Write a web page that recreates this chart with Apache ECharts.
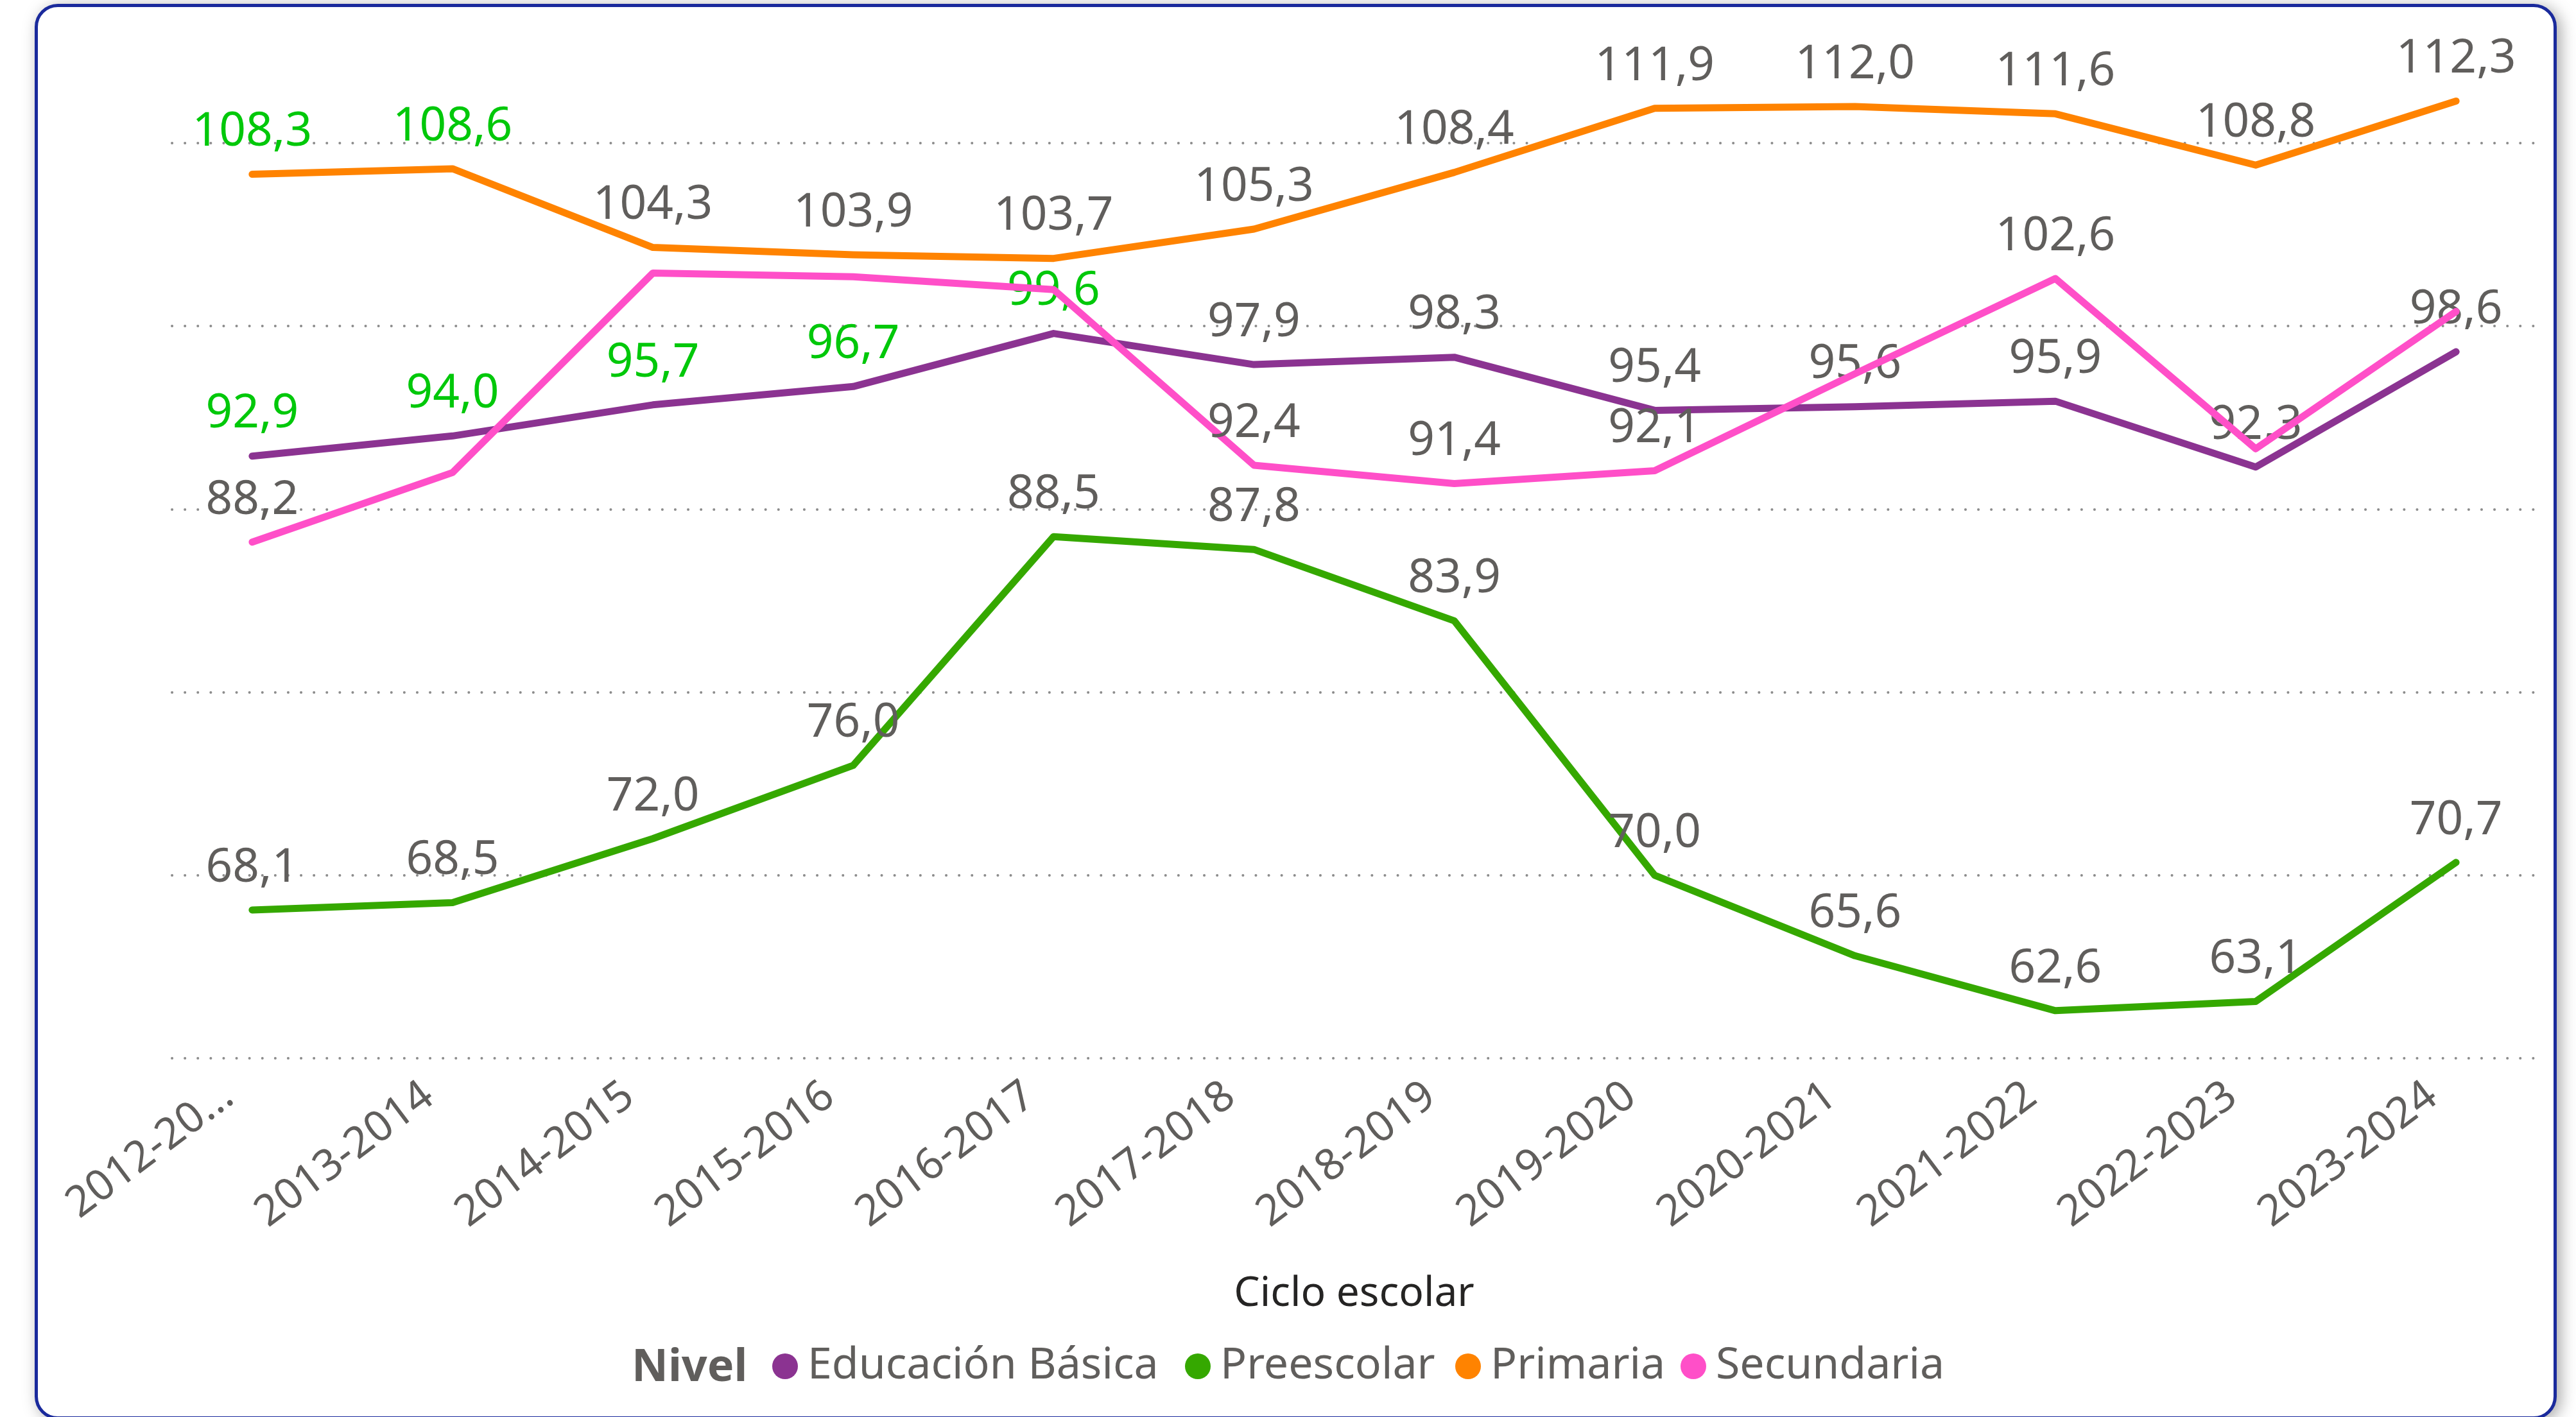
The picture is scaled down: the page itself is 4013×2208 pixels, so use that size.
<!DOCTYPE html>
<html><head><meta charset="utf-8">
<script src="https://cdn.jsdelivr.net/npm/echarts@6/dist/echarts.min.js"></script>
<style>
html,body{margin:0;padding:0;width:4013px;height:2208px;background:#fff;overflow:hidden;}
#card{position:absolute;left:54px;top:6px;width:3929px;height:2206px;box-sizing:border-box;border:5px solid #1a2a9c;border-radius:36px;background:#fff;box-shadow:6px 4px 24px rgba(0,0,0,0.35);}
#chart{position:absolute;left:0;top:0;width:4013px;height:2208px;}
</style></head><body>
<div id="card"></div><div id="chart"></div>
<script>
// ---- data ----
const categories = ['2012-2013','2013-2014','2014-2015','2015-2016','2016-2017','2017-2018','2018-2019','2019-2020','2020-2021','2021-2022','2022-2023','2023-2024'];
const xTickLabels = ['2012-20...','2013-2014','2014-2015','2015-2016','2016-2017','2017-2018','2018-2019','2019-2020','2020-2021','2021-2022','2022-2023','2023-2024'];
const seriesNames = ['Educación Básica','Preescolar','Primaria','Secundaria'];
const educacionBasica = [92.9, 94.0, 95.7, 96.7, 99.6, 97.9, 98.3, 95.4, 95.6, 95.9, 92.3, 98.6];
const preescolar      = [68.1, 68.5, 72.0, 76.0, 88.5, 87.8, 83.9, 70.0, 65.6, 62.6, 63.1, 70.7];
const primaria        = [108.3, 108.6, 104.3, 103.9, 103.7, 105.3, 108.4, 111.9, 112.0, 111.6, 108.8, 112.3];
const secundaria      = [88.2, 92.0, 102.9, 102.7, 102.0, 92.4, 91.4, 92.1, 97.4, 102.6, 93.3, 100.8];
const yTicks = [60, 70, 80, 90, 100, 110];

// which data labels are drawn, and which are highlighted (green)
const labelShown = [
  [true,true,true,true,true,true,true,true,true,true,true,true],
  [true,true,true,true,true,true,true,true,true,true,true,true],
  [true,true,true,true,true,true,true,true,true,true,true,true],
  [true,false,false,false,false,true,true,true,false,true,false,false]
];
const labelHighlighted = [
  [true,true,true,true,true,false,false,false,false,false,false,false],
  [false,false,false,false,false,false,false,false,false,false,false,false],
  [true,true,false,false,false,false,false,false,false,false,false,false],
  [false,false,false,false,false,false,false,false,false,false,false,false]
];

// ---- styles ----
const seriesColors = ['#8B3391','#35A800','#FF8300','#FF4FC8'];
const FONT = '"Segoe UI","Noto Sans","Open Sans",sans-serif';
const GREY = '#605E5C';
const GREEN_LABEL = '#00C80A';

const valueSets = [educacionBasica, preescolar, primaria, secundaria];
const fmt = v => v.toFixed(1).replace('.', ',');

const series = seriesNames.map((name, s) => ({
  name, type: 'line', clip: false,
  symbol: 'circle', symbolSize: 1,
  lineStyle: { width: 11, color: seriesColors[s], cap: 'round', join: 'round' },
  itemStyle: { color: seriesColors[s] },
  emphasis: { disabled: true },
  label: { show: true, position: 'top', distance: 28, fontFamily: FONT, fontSize: 73,
           formatter: p => fmt(p.value[1]) },
  z: 2 + s,
  data: valueSets[s].map((v, i) => ({
    value: [i, v],
    label: { show: labelShown[s][i], color: labelHighlighted[s][i] ? GREEN_LABEL : GREY }
  }))
}));

const legendLefts = [1203, 1846, 2267, 2618];
const legends = seriesNames.map((name, s) => ({
  data: [name], left: legendLefts[s], top: 2095, padding: 0,
  icon: 'circle', itemWidth: 40, itemHeight: 40, selectedMode: false,
  textStyle: { fontFamily: FONT, fontSize: 68, color: GREY, padding: [0, 0, 0, 10] }
}));

const chart = echarts.init(document.getElementById('chart'), null, { renderer: 'canvas' });
chart.setOption({
  animation: false,
  backgroundColor: 'transparent',
  color: seriesColors,
  title: { text: 'Nivel', left: 984, top: 2097, padding: 0,
           textStyle: { fontFamily: FONT, fontSize: 70, fontWeight: 'bold', color: GREY } },
  legend: legends,
  grid: { left: 268, right: 62, top: 223, bottom: 559, containLabel: false },
  xAxis: {
    type: 'value', min: -0.4, max: 11.4,
    name: 'Ciclo escolar', nameLocation: 'middle', nameGap: 336,
    nameTextStyle: { fontFamily: FONT, fontSize: 64, color: '#252423' },
    axisLine: { show: false }, axisTick: { show: false }, splitLine: { show: false },
    axisLabel: {
      customValues: categories.map((c, i) => i),
      formatter: v => xTickLabels[v],
      rotate: 37, margin: 24, padding: [0, 46, 0, 0],
      fontFamily: FONT, fontSize: 67, color: GREY
    }
  },
  yAxis: {
    type: 'value', min: yTicks[0], max: yTicks[yTicks.length - 1], interval: 10,
    axisLine: { show: false }, axisTick: { show: false }, axisLabel: { show: false },
    splitLine: { show: true, lineStyle: { color: '#8C8C8C', width: 4, type: [0.1, 20], cap: 'round' } }
  },
  series
});
</script>
</body></html>
